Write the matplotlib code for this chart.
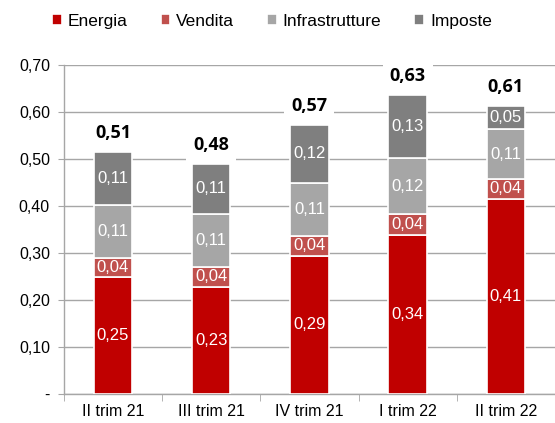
import numpy as np
import matplotlib.pyplot as plt

trimestri = ["II trim 21", "III trim 21", "IV trim 21", "I trim 22", "II trim 22"]
energia = [0.249, 0.228, 0.294, 0.338, 0.415]
vendita = [0.040, 0.042, 0.042, 0.044, 0.042]
infrastrutture = [0.113, 0.113, 0.113, 0.120, 0.106]
imposte = [0.113, 0.106, 0.123, 0.134, 0.049]
totali = ["0,51", "0,48", "0,57", "0,63", "0,61"]

serie = [("Energia", energia, "#C00000"),
         ("Vendita", vendita, "#C0504D"),
         ("Infrastrutture", infrastrutture, "#A6A6A6"),
         ("Imposte", imposte, "#7F7F7F")]

plt.rcParams['font.family'] = ['Liberation Sans', 'DejaVu Sans']
grid_col = "#A6A6A6"

fig = plt.figure(figsize=(5.55, 4.23), dpi=100)
ax = fig.add_axes([0.115, 0.069, 0.885, 0.778])

x = np.arange(len(trimestri))
bottom = np.zeros(len(trimestri))
handles = []
for nome, vals, col in serie:
    vals = np.array(vals)
    b = ax.bar(x, vals, 0.39, bottom=bottom, color=col, edgecolor="white",
               linewidth=1.2, label=nome, zorder=3)
    handles.append(b)
    for xi, v, b0 in zip(x, vals, bottom):
        ax.text(xi, b0 + v / 2, f"{v:.2f}".replace(".", ","), ha="center",
                va="center", color="white", fontsize=12, zorder=4)
    bottom += vals

for xi, top, lab in zip(x, bottom, totali):
    ax.text(xi, top + 0.04, lab, ha="center", va="center", fontsize=13,
            fontweight="bold", family=["Open Sans", "DejaVu Sans"], zorder=5,
            bbox=dict(facecolor="white", edgecolor="none", pad=5))

ax.set_ylim(0, 0.7)
ax.set_xlim(-0.5, 4.36)
yt = np.arange(0, 0.71, 0.1)
ax.set_yticks(yt)
ax.set_yticklabels(["-"] + [f"{v:.2f}".replace(".", ",") for v in yt[1:]])
ax.set_xticks(x)
ax.set_xticklabels(trimestri)
ax.set_xticks(np.arange(-0.5, 5, 1), minor=True)
ax.tick_params(axis="x", which="major", length=0, labelsize=11.5, pad=7)
ax.tick_params(axis="x", which="minor", length=5, color=grid_col)
ax.tick_params(axis="y", length=4, color=grid_col, labelsize=11.5, pad=6)
ax.yaxis.grid(True, color=grid_col, linewidth=1, zorder=0)
ax.set_axisbelow(True)
for s in ["top", "right"]:
    ax.spines[s].set_visible(False)
for s in ["left", "bottom"]:
    ax.spines[s].set_color(grid_col)
    ax.spines[s].set_linewidth(1)

fig.legend(handles=handles, loc="upper center", bbox_to_anchor=(0.49, 1.005),
           ncol=4, frameon=False, fontsize=12.5, handlelength=0.55,
           handleheight=0.55, handletextpad=0.35, columnspacing=1.9)

fig.savefig("out.png", dpi=100)
